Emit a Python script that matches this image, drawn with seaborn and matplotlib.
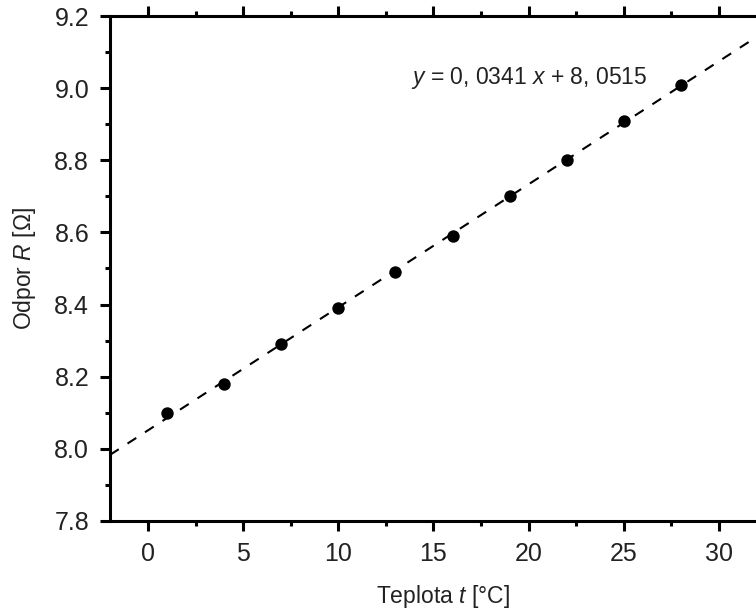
import matplotlib
matplotlib.use("Agg")
import matplotlib.pyplot as plt
import seaborn as sns
import numpy as np
import pandas as pd
from matplotlib.ticker import MultipleLocator

# Data
temperature = [1, 4, 7, 10, 13, 16, 19, 22, 25, 28]
resistance = [8.10, 8.18, 8.29, 8.39, 8.49, 8.59, 8.70, 8.80, 8.91, 9.01]
fit_slope = 0.0341
fit_intercept = 8.0515
fit_range = [-2, 33]
x_ticks = [0, 5, 10, 15, 20, 25, 30]
y_ticks = [7.8, 8.0, 8.2, 8.4, 8.6, 8.8, 9.0, 9.2]

sns.set_theme(style="ticks")
plt.rcParams['font.family'] = ['Liberation Sans', 'DejaVu Sans']
plt.rcParams['mathtext.fontset'] = 'custom'
plt.rcParams['mathtext.rm'] = 'Liberation Sans'
plt.rcParams['mathtext.it'] = 'Liberation Sans:italic'

df = pd.DataFrame({"t": temperature, "R": resistance})
fit_x = np.array(fit_range, dtype=float)
fit_df = pd.DataFrame({"t": fit_x, "R": fit_slope * fit_x + fit_intercept})

fig = plt.figure(figsize=(7.56, 6.10), dpi=100)
ax = fig.add_axes([110/756, 89/610, 666/756, 505/610])

sns.lineplot(data=fit_df, x="t", y="R", ax=ax, color="black", lw=1.5,
             dashes=False, linestyle=(0, (5, 5)), zorder=2)
sns.scatterplot(data=df, x="t", y="R", ax=ax, color="black", s=80,
                edgecolor="black", linewidth=0, zorder=3)

ax.set_xlim(fit_range[0], fit_range[1])
ax.set_ylim(7.8, 9.2)
ax.set_xticks(x_ticks)
ax.set_yticks(y_ticks)
ax.set_yticklabels([f"{v:.1f}" for v in y_ticks])
ax.xaxis.set_minor_locator(MultipleLocator(2.5))
ax.yaxis.set_minor_locator(MultipleLocator(0.1))

for s in ["left", "bottom", "top"]:
    ax.spines[s].set_linewidth(2.2)
    ax.spines[s].set_color("black")
ax.spines["right"].set_visible(False)

ax.tick_params(axis="both", which="major", direction="out", length=7, width=2.2,
               labelsize=18, colors="black", labelcolor="#222222")
ax.tick_params(axis="both", which="minor", direction="out", length=3.8, width=2.2, colors="black")
ax.tick_params(axis="x", which="both", top=True, bottom=True)
ax.tick_params(axis="y", which="both", left=True, right=False)
ax.tick_params(axis="x", which="major", pad=8)
ax.tick_params(axis="y", which="major", pad=8)

ax.set_xlabel("Teplota $t$ [°C]", fontsize=16.5, color="#222222", labelpad=12)
ax.set_ylabel("Odpor $R$ [Ω]", fontsize=16.5, color="#222222", labelpad=12)

ax.text(13.8, 9.028, "$y$ = 0, 0341 $x$ + 8, 0515", fontsize=16.5, color="#222222",
        ha="left", va="center")

ax.grid(False)
fig.savefig("out.png", dpi=100)
